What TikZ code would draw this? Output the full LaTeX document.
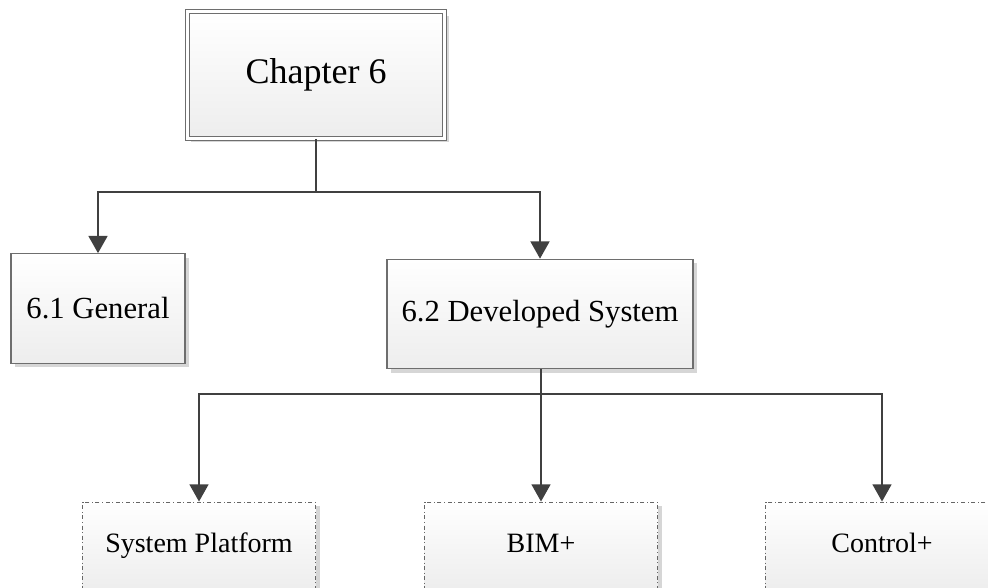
\documentclass[tikz,border=0pt]{standalone}
\usepackage{fontspec}
\setmainfont{Liberation Serif}
\usepackage{tikz}
\usetikzlibrary{arrows.meta,positioning,calc,shadows}
\definecolor{lline}{HTML}{404040}
\definecolor{bline}{HTML}{6E6E6E}
\definecolor{shade}{HTML}{D6D6D6}
\tikzset{
 box/.style={draw=bline,line width=0.9pt,align=center,inner sep=2pt,
   top color=white,bottom color=black!7,
   drop shadow={fill=shade,opacity=1,shadow xshift=3pt,shadow yshift=-3pt}},
 chapbox/.style={box,double=white,double distance=2pt,line width=0.7pt,
   minimum width=193pt,minimum height=95pt,font=\fontsize{27}{31}\selectfont},
 secbox/.style={box,minimum height=82pt,font=\fontsize{23}{27}\selectfont},
 subbox/.style={box,draw=black!60,line width=0.6pt,dash dot,
   text height=14pt,text depth=4pt,
   minimum width=174.75pt,minimum height=66pt,font=\fontsize{21}{25}\selectfont},
 arrow/.style={-{Triangle[length=13pt,width=14pt]},line width=2.1pt,draw=lline}
}
\begin{document}
\begin{tikzpicture}[x=0.75pt,y=-0.75pt]
 \useasboundingbox[fill=white] (0,0) rectangle (988,588);
 \node[chapbox] (chap) at (316,75) {Chapter 6};
 \node[secbox,minimum width=130.5pt] (gen) at (98,308.5) {6.1 General};
 \node[secbox,minimum width=229.5pt] (dev) at (540,314) {6.2 Developed System};
 \node[subbox] (plat) at (199,546) {System Platform};
 \node[subbox] (bim) at (541,546) {BIM+};
 \node[subbox] (ctrl) at (882,546) {Control+};
 \coordinate (fork1) at (chap.south |- 0,192);
 \coordinate (fork2) at (bim.north |- 0,394);
 \draw[arrow] (chap.south) -- (fork1) -| (gen.north);
 \draw[arrow] (fork1) -| (dev.north);
 \draw[arrow] (dev.south -| bim.north) -- (bim.north);
 \draw[arrow] (fork2) -| (plat.north);
 \draw[arrow] (fork2) -| (ctrl.north);
\end{tikzpicture}
\end{document}
